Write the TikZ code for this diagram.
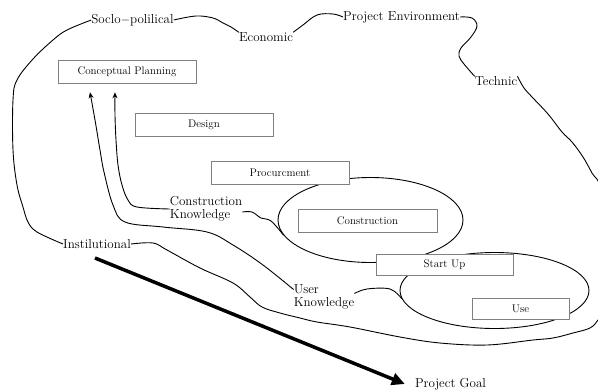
\documentclass[tikz,border=0pt]{standalone}
\usepackage{fontspec}
\usepackage{tikz}
\usetikzlibrary{arrows.meta,shapes.geometric}

\begin{document}
\begin{tikzpicture}[x=1pt,y=-1pt,
  phase/.style={draw=gray,fill=white,line width=0.6pt,inner sep=0pt,font=\fontsize{11}{13}\selectfont},
  factor/.style={inner sep=0pt,font=\fontsize{13}{13}\selectfont,align=left},
  zone/.style={draw,ellipse,line width=0.9pt,inner sep=0pt},
  wire/.style={line width=0.9pt},
  know/.style={line width=0.9pt,-{Stealth[length=6pt,width=5pt]}}]
\useasboundingbox (0,0) rectangle (598,389);
\clip (0,0) rectangle (598,389);

% the two ellipses, behind the phases
\node[zone,minimum width=185pt,minimum height=85pt] (zoneBuild) at (370.5,220) {};
\node[zone,minimum width=189pt,minimum height=76pt] (zoneUse) at (494.5,290.5) {};

% project phases
\node[phase,minimum width=138pt,minimum height=23pt] (plan) at (127,71.5) {Conceptual Planning};
\node[phase,minimum width=138pt,minimum height=23pt] (design) at (204,124.5) {Design};
\node[phase,minimum width=138pt,minimum height=23pt] (procure) at (280,172.5) {Procurcment};
\node[phase,minimum width=139pt,minimum height=23pt] (build) at (367.5,221) {Construction};
\node[phase,minimum width=137pt,minimum height=21pt] (startup) at (444.5,264.5) {Start Up};
\node[phase,minimum width=97pt,minimum height=21pt] (use) at (520.5,308.5) {Use};

% environment factors
\node[factor] (socio) at (132.5,20) {Soclo$-$polilical};
\node[factor] (econ) at (266,37) {Economic};
\node[factor] (env) at (401.5,17) {Project Environment};
\node[factor] (tech) at (496,81) {Technic};
\node[factor] (inst) at (97,244) {Instilutional};
\node[factor] (ckn) at (206,209) {Construction\\Knowledge};
\node[factor] (ukn) at (324,296.5) {User\\Knowledge};
\node[factor] (goal) at (450.5,384) {Project Goal};

% outer border
\draw[wire] plot[smooth,tension=0.6] coordinates {(socio.east) (196,16) (213,18) (223,23) (231,27) (econ.north west)};
\draw[wire] plot[smooth,tension=0.6] coordinates {(econ.north east) (303,25) (317,15) (333,14) (env.west)};
\draw[wire] plot[smooth,tension=0.6] coordinates {(env.east) (472,18) (477,26) (471,37) (461,48) (459,56) (464,64) (tech.north west)};
\draw[wire] plot[smooth,tension=0.6] coordinates {(tech.north east) (524,88) (533,98) (548,114) (562,132) (572,142) (583,157) (592,173) (601,190)
  (607,250) (604,310) (598,320) (590,328) (573,333) (553,338) (533,340) (487,345) (440,343) (400,337) (350,327) (317,322) (300,318)
  (280,313) (262,307) (250,297) (233,283) (200,268) (167,250) (153,243) (inst.east)};
\draw[wire] plot[smooth,tension=0.6] coordinates {(inst.west) (37,232) (28,222) (23,207) (17,185) (13,150) (13,100) (17,80) (33,59) (53,40) (67,30) (socio.west)};

% knowledge links
\draw[wire] plot[smooth,tension=0.6] coordinates {([yshift=-3pt]ckn.east) (252,212) (261,218) (271,221) (zoneBuild.190)};
\draw[wire] plot[smooth,tension=0.6] coordinates {([yshift=3pt]ukn.east) (367,289) (390,289) (zoneUse.185)};

\coordinate (tipA) at ([xshift=-37pt,yshift=-9pt]plan.south);
\coordinate (tipB) at ([xshift=-12pt,yshift=-9pt]plan.south);
\draw[know] plot[smooth,tension=0.6] coordinates {(ckn.west) (137,207) (128,200) (122,185) (118,165) (116,140) (115,115) (tipB)};
\draw[know] plot[smooth,tension=0.6] coordinates {([yshift=7pt]ukn.west) (263,265) (233,245) (207,232) (163,227) (125,222) (113,205)
  (104,172) (100,150) (95,120) (tipA)};

% toward the goal
\coordinate (goalTail) at (95,258);
\draw[line width=3.5pt,-{Triangle[length=13pt,width=12pt]}] (goalTail) -- ([xshift=-10pt]goal.west);
\end{tikzpicture}
\end{document}
